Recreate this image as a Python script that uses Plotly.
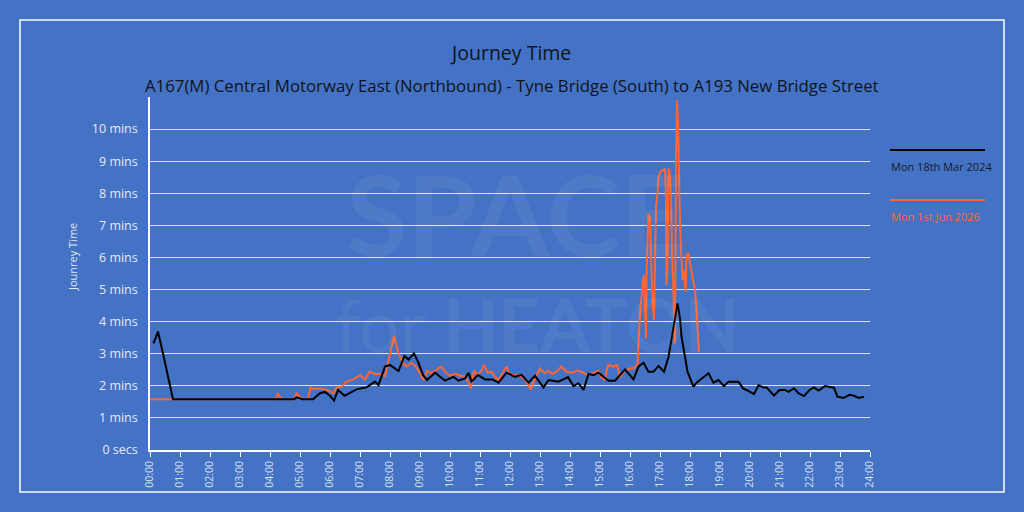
import plotly.graph_objects as go

# ---- data (minutes after midnight, journey time in minutes) ----
series_2024_name = "Mon 18th Mar 2024"
series_2024_min = [7, 16, 26, 37, 46, 288, 293, 300, 305, 326, 340, 350, 360, 368, 376, 389, 400, 413,
                   433, 450, 457, 470, 480, 497, 509, 517, 528, 536, 546, 554, 570, 590, 607, 617, 630,
                   637, 643, 656, 670, 685, 697, 713, 730, 743, 757, 770, 787, 797, 817, 836, 847, 857,
                   867, 877, 887, 897, 917, 930, 950, 967, 977, 987, 997, 1007, 1017, 1028, 1037, 1047,
                   1055, 1060, 1063, 1070, 1075, 1087, 1093, 1103, 1117, 1127, 1137, 1148, 1157, 1177,
                   1186, 1193, 1208, 1217, 1227, 1233, 1248, 1259, 1270, 1277, 1288, 1297, 1308, 1319,
                   1328, 1337, 1350, 1368, 1375, 1387, 1399, 1408, 1417, 1428]
series_2024_val = [3.32, 3.69, 3.01, 2.18, 1.58, 1.58, 1.64, 1.61, 1.58, 1.58, 1.77, 1.81, 1.69, 1.54,
                   1.87, 1.69, 1.77, 1.89, 1.95, 2.13, 2.02, 2.60, 2.65, 2.46, 2.93, 2.82, 3.01, 2.75,
                   2.34, 2.18, 2.41, 2.16, 2.28, 2.16, 2.23, 2.41, 2.13, 2.34, 2.20, 2.20, 2.10, 2.41,
                   2.28, 2.34, 2.10, 2.31, 1.95, 2.18, 2.13, 2.27, 1.99, 2.08, 1.87, 2.37, 2.33, 2.41,
                   2.16, 2.16, 2.51, 2.20, 2.60, 2.72, 2.44, 2.44, 2.62, 2.44, 2.90, 3.85, 4.57, 4.10,
                   3.53, 2.91, 2.44, 1.97, 2.10, 2.22, 2.39, 2.10, 2.18, 1.99, 2.13, 2.13, 1.92, 1.87,
                   1.74, 2.02, 1.95, 1.95, 1.70, 1.87, 1.87, 1.81, 1.92, 1.77, 1.68, 1.87, 1.95, 1.85,
                   1.99, 1.94, 1.66, 1.62, 1.72, 1.69, 1.62, 1.66]

series_2026_name = "Mon 1st Jun 2026"
series_2026_min = [0, 251, 256, 260, 266, 288, 293, 300, 310, 316, 321, 326, 340, 352, 367, 373, 383,
                   393, 407, 420, 430, 439, 450, 460, 470, 477, 484, 488, 492, 497, 506, 513, 523, 532,
                   540, 547, 554, 562, 570, 583, 590, 600, 610, 620, 630, 638, 642, 648, 655, 663, 668,
                   675, 683, 690, 697, 707, 713, 720, 730, 740, 750, 758, 762, 767, 773, 780, 790, 797,
                   805, 815, 823, 833, 847, 853, 863, 870, 877, 887, 897, 903, 910, 913, 917, 927, 934,
                   940, 947, 960, 967, 975, 977, 979, 981, 984, 985, 988, 990, 992, 993, 997, 1000,
                   1001, 1003, 1005, 1008, 1010, 1012, 1015, 1017, 1021, 1027, 1030, 1032, 1033, 1035,
                   1037, 1039, 1042, 1044, 1047, 1048, 1050, 1052, 1054, 1056, 1057, 1059, 1061, 1063,
                   1065, 1068, 1071, 1073, 1077, 1080, 1083, 1087, 1090, 1092, 1094, 1096, 1098]
series_2026_val = [1.58, 1.58, 1.77, 1.64, 1.58, 1.58, 1.77, 1.64, 1.58, 1.60, 1.95, 1.90, 1.92, 1.88,
                   1.77, 1.95, 1.97, 2.13, 2.20, 2.34, 2.20, 2.44, 2.37, 2.37, 2.31, 2.80, 3.22, 3.55,
                   3.32, 3.01, 2.70, 2.60, 2.72, 2.60, 2.39, 2.18, 2.47, 2.39, 2.47, 2.60, 2.44, 2.31,
                   2.39, 2.31, 2.30, 2.08, 1.92, 2.47, 2.34, 2.47, 2.65, 2.41, 2.44, 2.28, 2.18, 2.47,
                   2.60, 2.34, 2.34, 2.31, 2.20, 1.99, 1.89, 2.13, 2.31, 2.54, 2.39, 2.47, 2.37, 2.47,
                   2.60, 2.44, 2.41, 2.47, 2.44, 2.37, 2.33, 2.40, 2.47, 2.27, 2.18, 2.47, 2.65, 2.60,
                   2.65, 2.27, 2.44, 2.54, 2.54, 2.68, 3.32, 3.95, 4.52, 4.88, 5.24, 5.45, 3.95, 3.48,
                   5.45, 7.37, 7.22, 6.65, 6.34, 4.57, 4.05, 5.61, 7.58, 8.00, 8.51, 8.67, 8.75, 8.76,
                   7.89, 5.14, 5.66, 8.76, 8.70, 7.89, 6.02, 4.98, 4.05, 3.32, 9.03, 10.90, 10.28, 9.03,
                   7.79, 6.65, 5.92, 5.30, 5.61, 4.93, 6.07, 6.13, 5.82, 5.56, 5.24, 4.98, 4.57, 3.95,
                   3.58, 3.06]

x_tick_hours = list(range(25))
x_tick_labels = [f"{h:02d}:00" for h in x_tick_hours]
y_tick_vals = list(range(11))
y_tick_labels = ["0 secs"] + [f"{v} mins" for v in y_tick_vals[1:]]

title_text = "Journey Time"
subtitle_text = "A167(M) Central Motorway East (Northbound) - Tyne Bridge (South) to A193 New Bridge Street"
y_title_text = "Jounrey Time"

# ---- styling ----
BG = "#4472C4"
BLACK = "#000000"
ORANGE = "#FF6633"
FONT = "Open Sans"
WM = "rgba(255,255,255,0.06)"

W, H = 1024, 512
L, R, T, B = 150, 154, 97, 62
PW, PH = W - L - R, H - T - B


def px(x):
    return (x - L) / PW


def py(y):
    return (H - B - y) / PH


fig = go.Figure()
# orange drawn first so the black series sits on top, as in the reference
fig.add_trace(go.Scatter(x=[m / 60 for m in series_2026_min], y=series_2026_val, mode="lines",
                         name=series_2026_name, line=dict(color=ORANGE, width=2), showlegend=False))
fig.add_trace(go.Scatter(x=[m / 60 for m in series_2024_min], y=series_2024_val, mode="lines",
                         name=series_2024_name, line=dict(color=BLACK, width=2), showlegend=False))

annotations = [
    # faint watermark
    dict(text="<b>SPACE</b>", x=px(515), y=py(212), xref="paper", yref="paper", showarrow=False,
         xanchor="center", yanchor="middle",
         font=dict(family="Lato", size=112, color=WM)),
    dict(text="for <b>HEATON</b>", x=px(333), y=py(324), xref="paper", yref="paper", showarrow=False,
         xanchor="left", yanchor="middle",
         font=dict(family="Lato", size=72, color=WM)),
    dict(text=title_text, x=0.5, y=py(52), xref="paper", yref="paper", showarrow=False,
         xanchor="center", yanchor="middle", font=dict(family=FONT, size=19.5, color="#10141c")),
    dict(text=subtitle_text, x=px(512), y=py(85), xref="paper", yref="paper", showarrow=False,
         xanchor="center", yanchor="middle", font=dict(family=FONT, size=16.8, color="#10141c")),
    dict(text=y_title_text, x=px(72), y=py(257), xref="paper", yref="paper", showarrow=False,
         textangle=-90, xanchor="center", yanchor="middle",
         font=dict(family=FONT, size=11, color="#dfe7f5")),
    dict(text=series_2024_name, x=px(889), y=py(166), xref="paper", yref="paper", showarrow=False,
         xanchor="left", yanchor="middle", font=dict(family=FONT, size=11, color="#141c2c")),
    dict(text=series_2026_name, x=px(889), y=py(216), xref="paper", yref="paper", showarrow=False,
         xanchor="left", yanchor="middle", font=dict(family=FONT, size=11, color=ORANGE)),
]

shapes = [
    dict(type="rect", xref="paper", yref="paper", x0=px(20), x1=px(1004), y0=py(492), y1=py(20),
         line=dict(color="white", width=1.5), fillcolor="rgba(0,0,0,0)"),
    dict(type="line", xref="paper", yref="paper", x0=px(890), x1=px(985), y0=py(150), y1=py(150),
         line=dict(color=BLACK, width=2)),
    dict(type="line", xref="paper", yref="paper", x0=px(890), x1=px(985), y0=py(200), y1=py(200),
         line=dict(color=ORANGE, width=2)),
]

fig.update_layout(
    width=W, height=H,
    margin=dict(l=L, r=R, t=T, b=B, pad=0),
    paper_bgcolor=BG, plot_bgcolor=BG,
    font=dict(family=FONT),
    showlegend=False,
    annotations=annotations,
    shapes=shapes,
    xaxis=dict(range=[0, 24], tickvals=x_tick_hours, ticktext=x_tick_labels, tickangle=-90,
               showgrid=False, zeroline=False, showline=True, linecolor="white", linewidth=1.5,
               ticks="outside", ticklen=5, tickcolor="white", tickwidth=1,
               tickfont=dict(family=FONT, size=10.5, color="#d6e0f3")),
    yaxis=dict(range=[0, 11], tickvals=y_tick_vals, ticktext=y_tick_labels,
               showgrid=True, gridcolor="#dde3ee", gridwidth=1, zeroline=False,
               showline=True, linecolor="white", linewidth=1.5, ticks="", ticklabelstandoff=8,
               tickfont=dict(family=FONT, size=12.5, color="#e4eaf6")),
)

fig.write_html("out.html")
